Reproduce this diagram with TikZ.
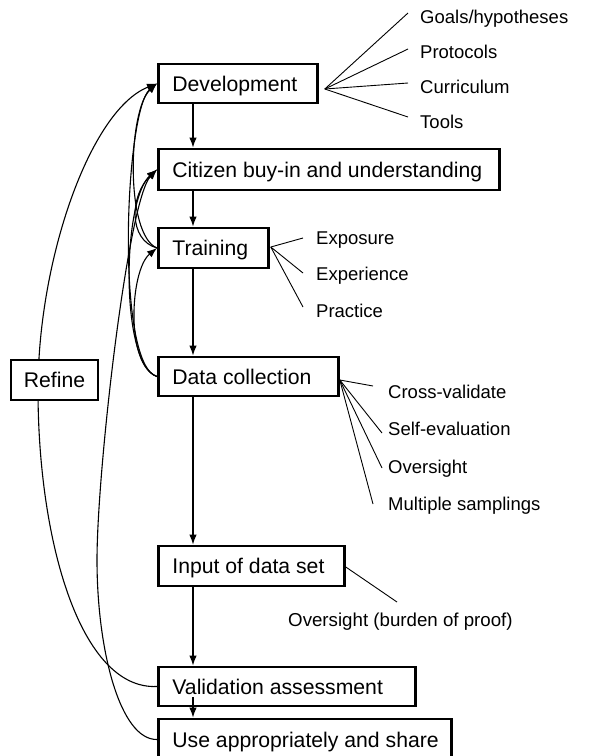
\documentclass[tikz,border=0pt]{standalone}
\usepackage{fontspec}
\setmainfont{Liberation Sans}
\usetikzlibrary{arrows.meta,calc}
\begin{document}
\begin{tikzpicture}[x=1pt,y=1pt,
  box/.style={draw, line width=2.8pt, fill=white, anchor=west, inner xsep=14pt, inner ysep=0pt,
    text height=15.2pt, text depth=0pt, font=\fontsize{21.2}{25}\selectfont},
  lab/.style={anchor=west, inner sep=0pt, text height=13.2pt, text depth=0pt, font=\fontsize{18.5}{22}\selectfont},
  arr/.style={line width=1.2pt, -{Latex[length=10pt,width=7.5pt]}},
  fb/.style={line width=1.1pt, -{Latex[length=10pt,width=7.5pt]}},
  fbl/.style={line width=1.1pt},
  fan/.style={line width=0.9pt}]
\useasboundingbox (0,0) rectangle (594,-756);

\coordinate (ax) at (193,0);
\path
  node[box, minimum height=39pt] (dev) at (157,-83.5) {\makebox[131pt][l]{Development}}
  node[box, minimum height=41pt] (cit) at (157,-169.5) {\makebox[313pt][l]{Citizen buy-in and understanding}}
  node[box, minimum height=40pt] (tra) at (157,-248) {\makebox[82pt][l]{Training}}
  node[box, minimum height=39pt] (dat) at (157,-376.5) {\makebox[152pt][l]{Data collection}}
  node[box, minimum height=40pt] (inp) at (157,-566) {\makebox[158pt][l]{Input of data set}}
  node[box, minimum height=39pt] (val) at (157,-686.5) {\makebox[229pt][l]{Validation assessment}}
  node[box, minimum height=41pt] (use) at (157,-739.5) {\makebox[265pt][l]{Use appropriately and share}};

% feedback curves
\draw[fb] (val.west) .. controls (80,-690) and (38,-540) .. (38,-390)
  .. controls (38,-260) and (90,-110) .. (dev.west);
\draw[fb] (use.west) .. controls (120,-740) and (97,-650) .. (97,-560)
  .. controls (97,-470) and (128,-200) .. (cit.west);
\draw[fb] (dat.west) .. controls (115,-365) and (125,-110) .. (dev.west);
\draw[fb] (dat.west) .. controls (120,-365) and (122,-200) .. (cit.west);
\draw[fb] (dat.west) .. controls (125,-365) and (130,-270) .. (tra.west);
\draw[fb] (tra.west) .. controls (125,-235) and (128,-110) .. (dev.west);
\draw[fb] (tra.west) .. controls (128,-240) and (130,-195) .. (cit.west);

\node[box, minimum width=87pt, minimum height=40pt, anchor=center, inner xsep=0pt] (ref) at (54.5,-380) {Refine};

% main flow
\draw[arr] (dev.south -| ax) -- (cit.north -| ax);
\draw[arr] (cit.south -| ax) -- (tra.north -| ax);
\draw[arr] (tra.south -| ax) -- (dat.north -| ax);
\draw[arr] (dat.south -| ax) -- (inp.north -| ax);
\draw[arr] (inp.south -| ax) -- (val.north -| ax);
\draw[arr] ([yshift=10pt]val.south -| ax) -- (use.north -| ax);

% labels
\node[lab] (goals) at (420,-17) {Goals/hypotheses};
\node[lab] (prot) at (420,-52) {Protocols};
\node[lab] (curr) at (420,-87) {Curriculum};
\node[lab] (tools) at (420,-122) {Tools};
\node[lab] (expo) at (316,-237.5) {Exposure};
\node[lab] (expe) at (316,-274) {Experience};
\node[lab] (prac) at (316,-311) {Practice};
\node[lab] (cross) at (388,-392) {Cross-validate};
\node[lab] (self) at (388,-429) {Self-evaluation};
\node[lab] (over) at (388,-467) {Oversight};
\node[lab] (multi) at (388,-504) {Multiple samplings};
\node[lab, font=\fontsize{18.7}{22}\selectfont] (ob) at (288,-620) {Oversight (burden of proof)};

\coordinate (devfan) at ([shift={(6,-5.5)}]dev.east);
\coordinate (trafan) at ([shift={(1,1)}]tra.east);
\coordinate (datfan) at ([shift={(0,-3.5)}]dat.east);
\draw[fan] (devfan) -- ([shift={(-12,4)}]goals.west);
\draw[fan] (devfan) -- ([shift={(-12,3)}]prot.west);
\draw[fan] (devfan) -- ([shift={(-12,4)}]curr.west);
\draw[fan] (devfan) -- ([shift={(-12,5)}]tools.west);
\draw[fan] (trafan) -- ([shift={(-13,-0.5)}]expo.west);
\draw[fan] (trafan) -- ([shift={(-13,1)}]expe.west);
\draw[fan] (trafan) -- ([shift={(-13,4)}]prac.west);
\draw[fan] (datfan) -- ([shift={(-15,6)}]cross.west);
\draw[fan] (datfan) -- ([shift={(-6,-4)}]self.west);
\draw[fan] (datfan) -- ([shift={(-6,-1)}]over.west);
\draw[fan] (datfan) -- ([shift={(-15,0)}]multi.west);
\draw[fan] ([yshift=-1pt]inp.east) -- ([shift={(109,18)}]ob.west);
\end{tikzpicture}
\end{document}
